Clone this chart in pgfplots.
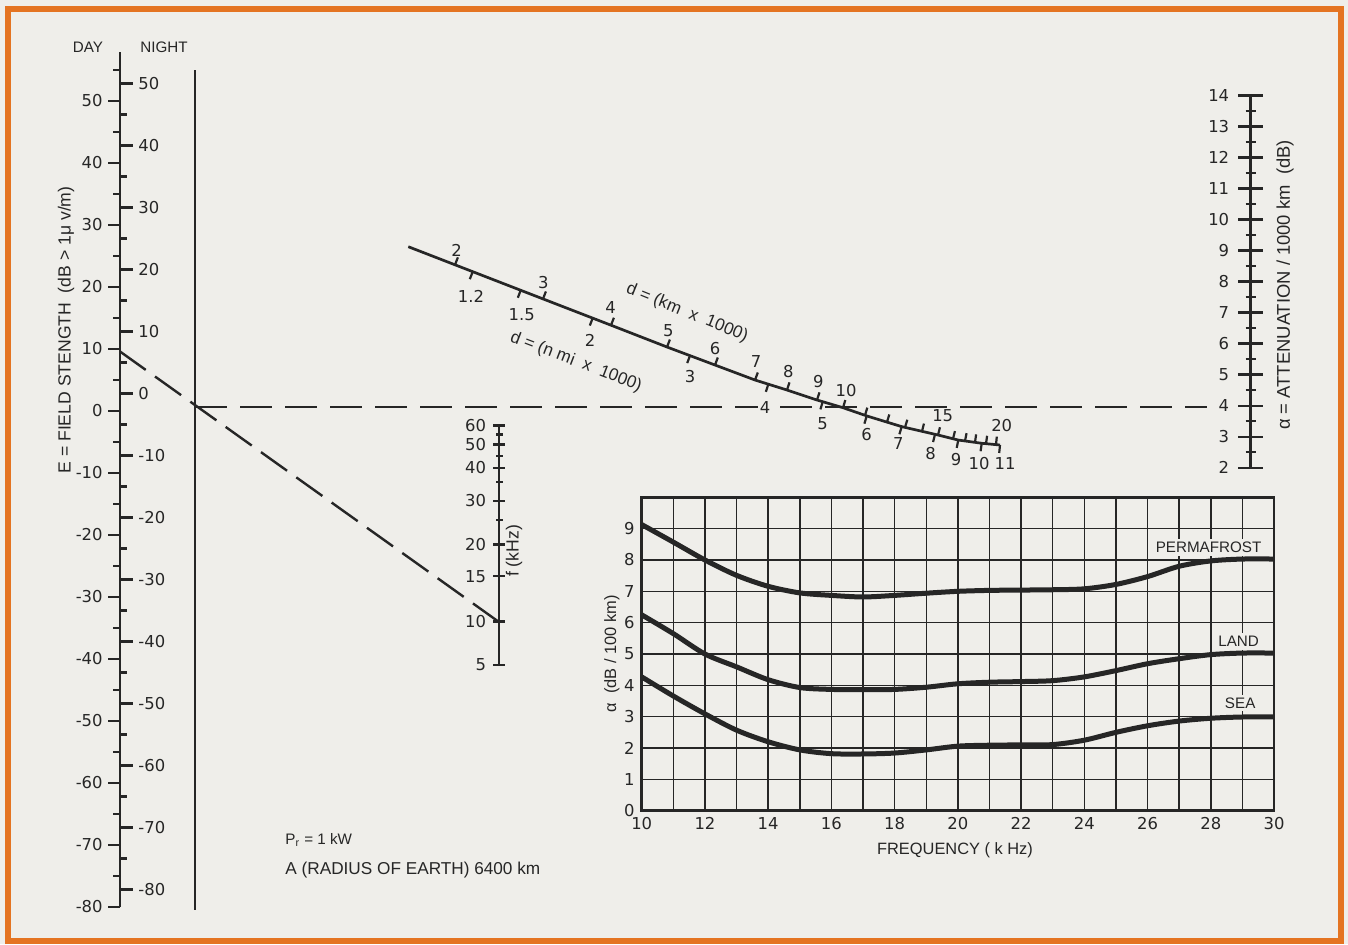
\documentclass[border=0pt]{standalone}
\usepackage{fontspec}
\setmainfont{Liberation Sans}
\newfontfamily\numfont{DejaVu Sans}
\usepackage{pgfplots}
\usepackage{pgfplotstable}
\pgfplotsset{compat=1.18}

\definecolor{paper}{RGB}{239,238,234}
\definecolor{rim}{RGB}{228,116,34}
\definecolor{ink}{RGB}{38,38,38}

\newcommand{\lbl}{\fontsize{7.6}{9}\selectfont}
\newcommand{\lblbig}{\fontsize{8.6}{10}\selectfont}
\newcommand{\num}{\numfont\fontsize{8.2}{9.5}\selectfont}

% one pixel of the reference = 0.5pt
\pgfplotsset{
  /pgf/number format/assume math mode=true,
  nomo/.style={scale only axis, width=1pt, xmin=0, xmax=1, axis x line=none,
    every tick/.style={ink, line width=1.2pt},
    tick label style={font=\num, text=ink},
    tick align=outside, major tick length=6pt, minor tick length=3.5pt,
    clip=false},
  nomoline/.style={axis line style={ink, line width=1.35pt, -}},
  tickq/.style={ink, line width=1.2pt, quiver={u=\thisrow{u}, v=\thisrow{v}}},
  labs/.style={only marks, mark=none, nodes near coords,
    point meta=explicit symbolic,
    every node near coord/.style={font=\num, text=ink, inner sep=1pt, anchor=#1}},
}

% field strength scale, pixel units: DAY ticks (left), NIGHT ticks (right)
% day dB -> y = 410.7 - 6.2 E ; night dB -> y = 393.5 - 6.2 N
\pgfplotstableread{
x    y      u    v   lab
120  100.7  -12  0   50
120  162.7  -12  0   40
120  224.7  -12  0   30
120  286.7  -12  0   20
120  348.7  -12  0   10
120  410.7  -12  0   0
120  472.7  -12  0   -10
120  534.7  -12  0   -20
120  596.7  -12  0   -30
120  658.7  -12  0   -40
120  720.7  -12  0   -50
120  782.7  -12  0   -60
120  844.7  -12  0   -70
120  906.7  -12  0   -80
}\daymaj
\pgfplotstableread{
x    y      u    v
120  69.7   -7   0
120  131.7  -7   0
120  193.7  -7   0
120  255.7  -7   0
120  317.7  -7   0
120  379.7  -7   0
120  441.7  -7   0
120  503.7  -7   0
120  565.7  -7   0
120  627.7  -7   0
120  689.7  -7   0
120  751.7  -7   0
120  813.7  -7   0
120  875.7  -7   0
}\daymin
\pgfplotstableread{
x    y      u    v   lab
120  83.5   13   0   50
120  145.5  13   0   40
120  207.5  13   0   30
120  269.5  13   0   20
120  331.5  13   0   10
120  393.5  13   0   0
120  455.5  13   0   -10
120  517.5  13   0   -20
120  579.5  13   0   -30
120  641.5  13   0   -40
120  703.5  13   0   -50
120  765.5  13   0   -60
120  827.5  13   0   -70
120  889.5  13   0   -80
}\nightmaj
\pgfplotstableread{
x    y      u    v
120  114.5  7    0
120  176.5  7    0
120  238.5  7    0
120  300.5  7    0
120  362.5  7    0
120  424.5  7    0
120  486.5  7    0
120  548.5  7    0
120  610.5  7    0
120  672.5  7    0
120  734.5  7    0
120  796.5  7    0
120  858.5  7    0
}\nightmin

% distance scale: ticks along the curve (x y u v), pixel units
\pgfplotstableread{
x      y      u      v
455    264.8  2.89  -7.46
543    298.9  2.89  -7.46
611    325.2  2.89  -7.46
667    347.0  2.89  -7.46
715    365.0  2.81  -7.49
755    380.0  2.81  -7.49
787    390.0  2.44  -7.62
817    400.0  2.44  -7.62
843    407.7  2.30  -7.66
865    415.3  2.30  -7.66
887    422.1  2.30  -7.66
905    427.4  2.30  -7.66
922    431.3  1.94  -7.76
938    435.0  1.94  -7.76
953    438.8  1.94  -7.76
965    441.0  1.57  -7.84
975    442.3  1.11  -7.92
986    443.7  1.11  -7.92
996    444.6  0.80  -7.96
}\kmticks
\pgfplotstableread{
x      y      u      v
472.7  271.7  -2.89  7.46
520.7  290.3  -2.89  7.46
592.7  318.1  -2.89  7.46
690    355.6  -2.81  7.49
768.3  384.2  -2.44  7.62
822.7  401.7  -2.30  7.66
866.7  416.0  -2.30  7.66
901.7  426.6  -2.30  7.66
935    434.3  -1.94  7.76
958.3  440.0  -1.57  7.84
981.7  443.3  -1.11  7.92
1000   445.0  -0.80  7.96
}\nmiticks

\begin{document}
\begin{tikzpicture}
\fill[paper] (0,0) rectangle (674pt,472pt);

% ---------- frame, scales drawn from data, distance curve, texts ----------
\begin{axis}[at={(0,0)}, anchor=south west, scale only axis,
  width=674pt, height=472pt, xmin=0, xmax=1348, ymin=0, ymax=944,
  y dir=reverse, axis lines=none, clip=false]
\draw[rim, line width=3pt] (axis cs:8,9) rectangle (axis cs:1341,941);

% DAY / NIGHT scale
\addplot[ink, line width=1.35pt] coordinates {(120,52) (120,906.7)};
\addplot[tickq] table {\daymaj};
\addplot[tickq] table {\daymin};
\addplot[tickq] table {\nightmaj};
\addplot[tickq] table {\nightmin};
\addplot[labs=east] table[x expr=\thisrow{x}-15, y=y, meta=lab] {\daymaj};
\addplot[labs=west] table[x expr=\thisrow{x}+16, y=y, meta=lab] {\nightmaj};

\addplot[ink, line width=1.35pt] coordinates {(195,70) (195,910)};
\addplot[ink, line width=1.2pt, dash pattern=on 16pt off 5.7pt]
  coordinates {(499,622) (120,351.5)};
\addplot[ink, line width=1.2pt, dash pattern=on 16pt off 6.5pt]
  coordinates {(195,406.7) (1207,406.7)};

\addplot[ink, line width=1.35pt, line join=round] coordinates {
  (408.3,246.7) (455,264.8) (543,298.9) (611,325.2) (667,347) (715,365)
  (755,380) (787,390) (817,400) (843,407.7) (867,416) (902,426.7)
  (938,435) (958,440) (982,443.3) (1000,445)};
\addplot[tickq, line width=1.1pt] table {\kmticks};
\addplot[tickq, line width=1.1pt] table {\nmiticks};

\begin{scope}[every node/.style={font=\num, text=ink, inner sep=1pt}]
\node at (axis cs:456.7,250) {2};
\node at (axis cs:543.3,282.7) {3};
\node at (axis cs:610.7,307.3) {4};
\node at (axis cs:668.3,330.7) {5};
\node at (axis cs:715,348.3) {6};
\node at (axis cs:756,361.7) {7};
\node at (axis cs:788.3,371.7) {8};
\node at (axis cs:818.3,381.7) {9};
\node at (axis cs:846,391) {10};
\node at (axis cs:942.7,416) {15};
\node at (axis cs:1001.7,426) {20};
\node at (axis cs:471,296.7) {1.2};
\node at (axis cs:521.7,315) {1.5};
\node at (axis cs:590,340) {2};
\node at (axis cs:690,376.7) {3};
\node[fill=paper] at (axis cs:765,407.3) {4};
\node at (axis cs:822.7,423.3) {5};
\node at (axis cs:866.7,435) {6};
\node at (axis cs:898.3,443.3) {7};
\node at (axis cs:930.7,454) {8};
\node at (axis cs:956,459.3) {9};
\node at (axis cs:979,464) {10};
\node at (axis cs:1005,464) {11};
\end{scope}

\begin{scope}[every node/.style={font=\lblbig, text=ink, inner sep=1pt}]
\node[rotate=-22] at (axis cs:687,313) {d = (km \ x \ 1000)};
\node[rotate=-21] at (axis cs:576,362) {d = (n mi \ x \ 1000)};
\node[font=\lbl] at (axis cs:88,47) {DAY};
\node[font=\lbl] at (axis cs:164,47) {NIGHT};
\node[rotate=90, font=\fontsize{8.8}{10}\selectfont] at (axis cs:66,330)
  {E = FIELD STENGTH \ (dB > 1μ v/m)};
\node[rotate=90, font=\fontsize{9.2}{10}\selectfont] at (axis cs:1285,285)
  {α = ATTENUATION / 1000 km \ (dB)};
\node[rotate=90, font=\fontsize{8.8}{10}\selectfont] at (axis cs:514,551) {f (kHz)};
\node[anchor=west, font=\lbl] at (axis cs:283,840) {P\textsubscript{r} = 1 kW};
\node[anchor=west] at (axis cs:283,870) {A (RADIUS OF EARTH) 6400 km};
\end{scope}
\end{axis}

% ---------- frequency scale ----------
\begin{axis}[nomo, at={(249.5pt,139.5pt)}, anchor=south west,
  height=117.5pt, ymin=430, ymax=665, y dir=reverse, axis y line=left, nomoline,
  ytick pos=left,
  ytick={430,449,471.7,504,546.7,578,622.3,665},
  yticklabels={60,50,40,30,20,15,10,5}]
\end{axis}
\begin{axis}[nomo, at={(249.5pt,139.5pt)}, anchor=south east,
  height=117.5pt, ymin=430, ymax=665, y dir=reverse, axis y line=right, nomoline,
  ytick pos=right,
  ytick={439,460,485.7,523}, yticklabels={}, major tick length=3.5pt]
\end{axis}

% ---------- attenuation scale ----------
\begin{axis}[nomo, at={(625.35pt,238.15pt)}, anchor=south west,
  height=186pt, ymin=2, ymax=14, axis y line=left, nomoline,
  ytick pos=left,
  ytick={2,...,14}, minor ytick={2.5,3.5,...,13.5},
  tick align=center, major tick length=12.5pt, minor tick length=5pt,
  yticklabel style={xshift=-1pt}]
\end{axis}

% ---------- inset: attenuation vs frequency ----------
\begin{axis}[at={(320.85pt,66.65pt)}, anchor=south west, scale only axis,
  width=316.15pt, height=156.7pt, xmin=10, xmax=30, ymin=0, ymax=10,
  xtick={10,12,...,30}, minor xtick={11,13,...,29}, ytick={0,1,...,9},
  grid=both, grid style={ink, line width=0.75pt},
  axis line style={ink, line width=1.3pt},
  major tick length=0pt, minor tick length=0pt,
  tick label style={font=\num, text=ink},
  xlabel={FREQUENCY ( k Hz)}, ylabel={α \ (dB / 100 km)},
  label style={font=\fontsize{8.2}{9.5}\selectfont, text=ink},
  xlabel style={at={(axis description cs:0.4955,-0.125)}, anchor=center},
  ylabel style={at={(axis description cs:-0.047,0.5)}, anchor=center},
  clip=false]
\addplot[ink, line width=2.5pt, smooth] coordinates {
  (10,9.13) (11,8.57) (12,8.0) (13,7.51) (14,7.16) (15,6.95) (16,6.87)
  (17,6.82) (18,6.87) (19,6.94) (20,7.0) (21,7.03) (22,7.04) (23,7.05)
  (24,7.08) (25,7.22) (26,7.47) (27,7.8) (28,7.97) (29,8.03) (30,8.03)};
\addplot[ink, line width=2.5pt, smooth] coordinates {
  (10,6.25) (11,5.65) (12,5.0) (13,4.59) (14,4.18) (15,3.93) (16,3.87)
  (17,3.86) (18,3.87) (19,3.94) (20,4.05) (21,4.1) (22,4.12) (23,4.15)
  (24,4.27) (25,4.47) (26,4.69) (27,4.85) (28,4.98) (29,5.03) (30,5.03)};
\addplot[ink, line width=2.5pt, smooth] coordinates {
  (10,4.27) (11,3.66) (12,3.09) (13,2.57) (14,2.2) (15,1.94) (16,1.82)
  (17,1.81) (18,1.84) (19,1.94) (20,2.06) (21,2.09) (22,2.1) (23,2.11)
  (24,2.25) (25,2.5) (26,2.71) (27,2.86) (28,2.95) (29,2.99) (30,2.99)};
\begin{scope}[every node/.style={font=\lbl, text=ink, fill=paper, inner sep=1.5pt}]
\node at (axis cs:27.93,8.4) {PERMAFROST};
\node at (axis cs:28.88,5.4) {LAND};
\node at (axis cs:28.93,3.44) {SEA};
\end{scope}
\end{axis}

\pgfresetboundingbox
\path[use as bounding box] (0,0) rectangle (674pt,472pt);
\end{tikzpicture}
\end{document}
